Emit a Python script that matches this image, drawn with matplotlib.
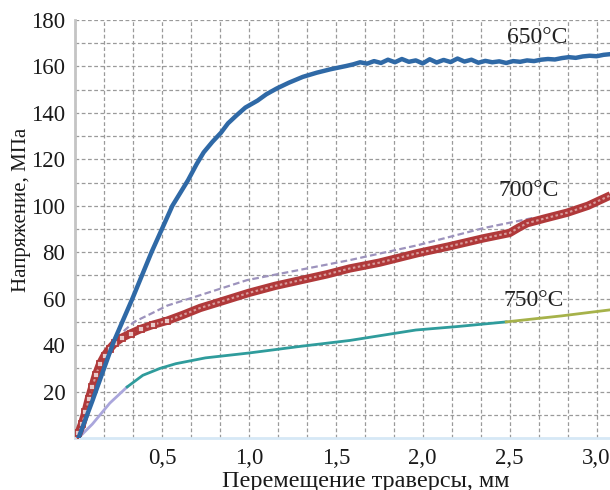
import numpy as np
import matplotlib
matplotlib.use("Agg")
import matplotlib.pyplot as plt

plt.rcParams['font.family'] = ['Liberation Serif', 'DejaVu Serif']

# --- data ---
# 650°C
blue_x = [0.02, 0.10, 0.22, 0.33, 0.44, 0.50, 0.56, 0.65, 0.70, 0.74, 0.79, 0.84, 0.88, 0.93, 0.98, 1.05,
          1.10, 1.16, 1.23, 1.31, 1.39, 1.47, 1.56,
          1.60, 1.64, 1.68, 1.72, 1.76, 1.80, 1.84, 1.88, 1.92, 1.96, 2.00, 2.04, 2.08, 2.12, 2.16, 2.20,
          2.24, 2.28, 2.32, 2.36, 2.40, 2.44, 2.48, 2.52, 2.56, 2.60, 2.64, 2.68, 2.72, 2.76, 2.80, 2.84,
          2.88, 2.92, 2.96, 3.00, 3.04, 3.08]
blue_y = [0, 16, 41, 60, 80, 90, 100, 111, 118, 123, 127.5, 131.5, 135.5, 139, 142.3, 145.3,
          148, 150.5, 153, 155.5, 157.3, 158.8, 160.2,
          160.9, 161.8, 161.2, 162.3, 161.5, 162.9, 161.8, 163.2, 162.0, 162.6, 161.3, 163.1, 161.7, 162.8, 161.9, 163.4,
          162.1, 162.9, 161.6, 162.4, 161.8, 162.2, 161.5, 162.3, 162.0, 162.6, 162.3, 162.9, 163.2, 163.0, 163.6, 164.0,
          163.7, 164.3, 164.6, 164.4, 165.0, 165.3]

# 700°C
red_x = [0.0, 0.02, 0.04, 0.06, 0.08, 0.10, 0.12, 0.145, 0.17, 0.20, 0.23, 0.27, 0.32, 0.38, 0.45, 0.53,
         0.62, 0.72, 0.85, 1.0, 1.15, 1.30, 1.45, 1.58, 1.75, 1.97, 2.15, 2.35, 2.50, 2.55, 2.60, 2.70,
         2.83, 2.95, 3.08]
red_y = [0, 2, 6, 11, 17, 22, 27, 32, 35.5, 38.5, 41, 43.2, 45, 47, 48.8, 50.5,
         53, 56, 59, 62.5, 65.5, 68, 70.5, 73, 75.5, 79.6, 82.5, 86, 88.3, 90.5, 92.5, 94.5,
         97, 100, 104.5]

# 700°C, second (dashed) record
dash_x = [0.28, 0.34, 0.45, 0.53, 0.72, 0.99, 1.30, 1.58, 1.97, 2.35, 2.63]
dash_y = [46, 50, 54, 57, 61.5, 68, 72.5, 76.6, 83, 90.4, 94.7]

# 750°C
lav_x = [0.02, 0.10, 0.20, 0.30]
lav_y = [0, 6, 15, 22]
teal_x = [0.30, 0.39, 0.49, 0.58, 0.75, 1.0, 1.30, 1.58, 1.96, 2.20, 2.48]
teal_y = [22, 27, 30, 32, 34.5, 36.6, 39.5, 42, 46.5, 48, 50]
olive_x = [2.48, 2.80, 3.08]
olive_y = [50, 52.6, 55.2]

x_ticks = [0.5, 1.0, 1.5, 2.0, 2.5, 3.0]
x_labels = ['0,5', '1,0', '1,5', '2,0', '2,5', '3,0']
y_ticks = [20, 40, 60, 80, 100, 120, 140, 160, 180]

fig = plt.figure(figsize=(6.1, 4.9), dpi=100)
ax = fig.add_axes([75 / 610, 52 / 490, 535 / 610, 418 / 490])

ax.set_xlim(0, 3.077)
ax.set_ylim(0, 180)

# сетка как в excel
ax.set_xticks(x_ticks)
ax.set_xticklabels(x_labels)
ax.set_xticks(np.arange(0, 3.1, 1 / 6), minor=True)
ax.set_yticks(y_ticks)
ax.set_yticks(np.arange(10, 180, 20), minor=True)
ax.grid(True, which='both', color='#9a9a9a', linestyle=(0, (3, 2)), linewidth=0.9)
ax.set_axisbelow(True)
ax.tick_params(which='both', length=0, labelsize=16.5, colors='#1a1a1a')
ax.tick_params(axis='x', pad=7)
ax.tick_params(axis='y', pad=7)

for s in ['top', 'right']:
    ax.spines[s].set_visible(False)
ax.spines['left'].set_color('#c4c4c4')
ax.spines['left'].set_linewidth(2)
ax.spines['bottom'].set_color('#d6e8f6')
ax.spines['bottom'].set_linewidth(2)

# curves
ax.plot(lav_x, lav_y, color='#aaa6dc', lw=2)
ax.plot(teal_x, teal_y, color='#2f9c9c', lw=2)
ax.plot(olive_x, olive_y, color='#a6b24a', lw=2)

ax.plot(dash_x, dash_y, color='#9d93bd', lw=1.6, linestyle=(0, (3, 1.5)))

ax.plot(red_x, red_y, color='#b0393a', lw=6, solid_capstyle='butt', zorder=3)
ax.plot(red_x, red_y, color='#d89c9c', lw=1.5, linestyle=(0, (1.2, 1.2)), zorder=3)
ax.plot(red_x[:16], red_y[:16], linestyle='none', marker='s', ms=5,
        mfc='#e9caca', mec='#b0393a', mew=1.3, zorder=4)

ax.plot(blue_x, blue_y, color='#2f69a6', lw=3.2, zorder=5)

# labels
ax.text(2.66, 172.5, '650°C', fontsize=17, ha='center', va='center', color='#222222')
ax.text(2.61, 106.5, '700°C', fontsize=17, ha='center', va='center', color='#222222')
ax.text(2.64, 59, '750°C', fontsize=17, ha='center', va='center', color='#222222')

ax.set_xlabel('Перемещение траверсы, мм', fontsize=17.5, color='#1a1a1a', va='center')
ax.set_ylabel('Напряжение, МПа', fontsize=15, color='#1a1a1a', va='center')
ax.xaxis.set_label_coords((366 - 75) / 535, (438 - 481) / 418)
ax.yaxis.set_label_coords((22 - 75) / 535, (438 - 210) / 418)

fig.savefig('out.png', dpi=100)
